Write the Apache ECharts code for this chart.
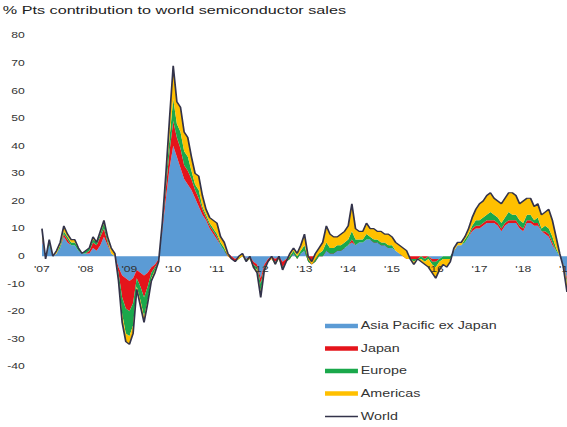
<!DOCTYPE html>
<html>
<head>
<meta charset="utf-8">
<script src="https://cdn.jsdelivr.net/npm/echarts@6/dist/echarts.min.js"></script>
<style>
  html, body { margin: 0; padding: 0; background: #fff; overflow: hidden; width: 567px; height: 427px; }
  /* chart is laid out narrow and widened to the page, giving the wide lettering */
  #chart { width: 396px; height: 427px; transform: scaleX(1.4318); transform-origin: 0 0; }
</style>
</head>
<body>
<div id="chart"></div>
<script>
// Monthly contributions (percentage points) to world semiconductor sales growth, Jan 2007 - Jan 2019
const tickLabels = ["'07", "'08", "'09", "'10", "'11", "'12", "'13", "'14", "'15", "'16", "'17", "'18", "'19"];
const firstYear = 2007;

const asiaPacific = [
  6, -1, 4, 0, 1, 3, 7, 5, 4, 4, 2, 1,
  1, 1, 3, 2, 4, 7, 4, 1, 0, -4, -7, -8,
  -9, -8, -5, -6, -7, -6, -4, -3, -1, 9, 21, 32,
  40, 36, 32, 28, 26, 24, 21, 18, 15, 13, 10, 8,
  6, 4, 2, 1, 0, -1, 0, 1, -1, 0, -2, -3,
  -8, -3, -1, 0, -1, 0, -2, -1, 0, 1, 0, 1,
  2, 0, 0, 0, 1, 1, 2, 2, 2, 3, 3, 3,
  4, 5, 4, 5, 5, 6, 6, 6, 5, 5, 4, 4,
  3, 2, 1, 1, 0, 0, 0, 0, 0, 0, 0, -1,
  -1, -1, 0, 0, 0, 2, 4, 4, 5, 7, 9, 10,
  10, 11, 12, 12, 12, 11, 9, 11, 12, 12, 12, 10,
  9, 12, 12, 11, 11, 9, 8, 7, 4, 2, 0, -3,
  -8
];
const japan = [
  1, 0, 0, 0, 0, 0, 1, 1, 0, 0, 0, 0,
  0, 1, 2, 2, 3, 3, 1, 0, 0, -2, -8, -11,
  -11, -9, -3, -5, -8, -5, -2, -1, -1, 1, 4, 6,
  9, 7, 7, 5, 5, 4, 3, 3, 2, 1, 1, 1,
  1, 0, 0, -1, -1, -1, 0, -1, 0, -1, -1, -1,
  -2, -1, -1, -1, -1, -1, -2, -1, -1, 0, -1, 0,
  0, -2, -3, -2, -1, -1, 0, -1, -1, -1, -1, 0,
  0, 1, 0, 0, 0, 0, 0, -1, 0, -1, 0, -1,
  0, 0, 0, -1, -1, -1, -1, -1, 0, -1, 0, -1,
  -1, 0, 0, 0, 0, 0, 0, 0, 0, 0, 1, 1,
  1, 1, 1, 1, 1, 1, 1, 1, 1, 1, 1, 1,
  1, 1, 1, 1, 1, 0, 1, 1, 1, 0, 0, 0,
  -1
];
const europe = [
  1, 0, 1, 0, 0, 1, 1, 1, 1, 1, 1, 0,
  1, 1, 1, 1, 1, 2, 1, 0, 0, -2, -6, -9,
  -9, -8, -3, -5, -7, -5, -2, -1, 0, 1, 3, 5,
  8, 5, 6, 5, 5, 3, 2, 3, 1, 1, 1, 1,
  1, 1, 1, 0, 0, 0, -1, 0, -1, 0, -1, -1,
  -3, -1, 0, 0, -1, 0, -1, 0, 1, 1, 1, 1,
  2, 1, 0, 1, 1, 2, 3, 2, 2, 2, 2, 2,
  2, 3, 2, 1, 1, 2, 1, 1, 1, 1, 1, 1,
  1, 0, 0, 0, 0, 0, -1, 0, -1, -1, -1, -1,
  -2, -1, -1, -1, -1, 0, 0, 0, 1, 1, 1, 2,
  2, 2, 2, 3, 2, 2, 2, 2, 3, 2, 2, 2,
  2, 2, 2, 1, 2, 1, 2, 2, 2, 1, 0, 0,
  -1
];
const americas = [
  2, 0, 1, 0, 1, 1, 2, 1, 1, 1, 0, 0,
  0, 0, 1, 0, 1, 1, 1, 2, 1, -1, -3, -3,
  -3, -3, -1, -2, -2, -1, -1, -1, 0, 1, 2, 7,
  12, 8, 9, 7, 7, 5, 4, 5, 4, 2, 2, 3,
  4, 2, 2, 1, 0, 0, 1, 1, 0, 1, 0, -1,
  -2, 0, 0, 1, 0, 1, 0, 0, 1, 1, 1, 2,
  4, 1, 1, 2, 2, 3, 6, 5, 4, 3, 4, 4,
  5, 10, 4, 3, 3, 4, 3, 4, 3, 4, 3, 4,
  3, 3, 3, 3, 3, 0, -1, 0, -1, -1, -3, -3,
  -4, -3, -2, -3, -1, 1, 1, 1, 1, 2, 3, 4,
  6, 6, 7, 7, 6, 6, 7, 7, 7, 8, 7, 6,
  8, 6, 6, 5, 5, 5, 5, 7, 6, 4, 1, -1,
  -3
];
const world = [
  10, -1, 6, 0, 2, 5, 11, 8, 6, 6, 3, 1,
  2, 3, 7, 5, 9, 13, 7, 3, 1, -9, -24, -31,
  -32, -28, -12, -18, -24, -17, -9, -6, -2, 12, 30, 50,
  69, 56, 54, 45, 43, 36, 30, 29, 22, 17, 14, 13,
  12, 7, 5, 1, -1, -2, 0, 1, -2, 0, -4, -6,
  -15, -5, -2, 0, -3, 0, -5, -2, 1, 3, 1, 4,
  8, 0, -2, 1, 3, 5, 11, 8, 7, 7, 8, 9,
  11, 19, 10, 9, 9, 12, 10, 10, 9, 9, 8, 8,
  7, 5, 4, 3, 2, -1, -3, -1, -2, -3, -4, -6,
  -8, -5, -3, -4, -2, 3, 5, 5, 7, 10, 14, 17,
  19, 20, 22, 23, 21, 20, 19, 21, 23, 23, 22, 19,
  20, 21, 21, 18, 19, 15, 16, 17, 13, 7, 1, -4,
  -13
];

// month categories, one per data point
const months = world.map((_, i) => {
  const y = firstYear + Math.floor(i / 12);
  const m = (i % 12) + 1;
  return y + '-' + (m < 10 ? '0' + m : m);
});

const FONT = 'Liberation Sans, Arial, sans-serif';
const TEXT = '#333333';

// plot box; the month labels sit just under the zero line
const GRID_TOP = 35.5;
const GRID_HEIGHT = 331;
const Y_MIN = -40;
const Y_MAX = 80;
const zeroFromBottom = GRID_HEIGHT * (0 - Y_MIN) / (Y_MAX - Y_MIN);

function areaSeries(name, data, color) {
  return {
    name: name,
    type: 'line',
    stack: 'regions',
    stackStrategy: 'all',
    data: data,
    showSymbol: false,
    symbol: 'none',
    color: color,
    lineStyle: { width: 0, color: color },
    itemStyle: { color: color },
    areaStyle: { color: color, opacity: 1 },
    emphasis: { disabled: true },
    z: 2
  };
}

const chart = echarts.init(document.getElementById('chart'), null, { renderer: 'svg' });
chart.setOption({
  animation: false,
  backgroundColor: '#ffffff',
  title: {
    text: '% Pts contribution to world semiconductor sales',
    left: 2,
    top: 4,
    padding: 0,
    textStyle: { fontFamily: FONT, fontSize: 11.3, fontWeight: 'normal', color: '#222222' }
  },
  legend: [
    {
      data: ['Asia Pacific ex Japan', 'Japan', 'Europe', 'Americas'],
      orient: 'vertical',
      left: 227,
      top: 321,
      padding: 0,
      icon: 'rect',
      itemWidth: 23,
      itemHeight: 4.5,
      itemGap: 12.5,
      textStyle: { fontFamily: FONT, fontSize: 10, color: TEXT, padding: [0, 0, 0, -3] }
    },
    {
      data: [{ name: 'World', icon: 'rect' }],
      orient: 'vertical',
      left: 227,
      top: 411.5,
      padding: 0,
      itemWidth: 23,
      itemHeight: 1.3,
      textStyle: { fontFamily: FONT, fontSize: 10, color: TEXT, padding: [0, 0, 0, -3] }
    }
  ],
  grid: {
    left: 29.3, right: 0, top: GRID_TOP, height: GRID_HEIGHT,
    containLabel: false, outerBoundsMode: 'none'
  },
  xAxis: {
    type: 'category',
    data: months,
    boundaryGap: false,
    z: 5,
    offset: -zeroFromBottom,
    axisLine: { show: false, onZero: false },
    axisTick: { show: false },
    splitLine: { show: false },
    axisLabel: {
      interval: 11,
      margin: 9,
      fontFamily: FONT,
      fontSize: 8.5,
      color: TEXT,
      formatter: (v, idx) => tickLabels[Math.floor(idx / 12)]
    }
  },
  yAxis: {
    type: 'value',
    min: Y_MIN,
    max: Y_MAX,
    interval: 10,
    axisLine: { show: false },
    axisTick: { show: false },
    splitLine: { show: false },
    axisLabel: { margin: 12, fontFamily: FONT, fontSize: 8.5, color: TEXT }
  },
  series: [
    areaSeries('Asia Pacific ex Japan', asiaPacific, '#5b9bd5'),
    areaSeries('Japan', japan, '#e5141b'),
    areaSeries('Europe', europe, '#1aa84b'),
    areaSeries('Americas', americas, '#ffc000'),
    {
      name: 'World',
      type: 'line',
      data: world,
      showSymbol: false,
      symbol: 'none',
      color: '#33334a',
      lineStyle: { width: 1.2, color: '#33334a' },
      itemStyle: { color: '#33334a' },
      emphasis: { disabled: true },
      z: 3
    }
  ]
});
</script>
</body>
</html>
